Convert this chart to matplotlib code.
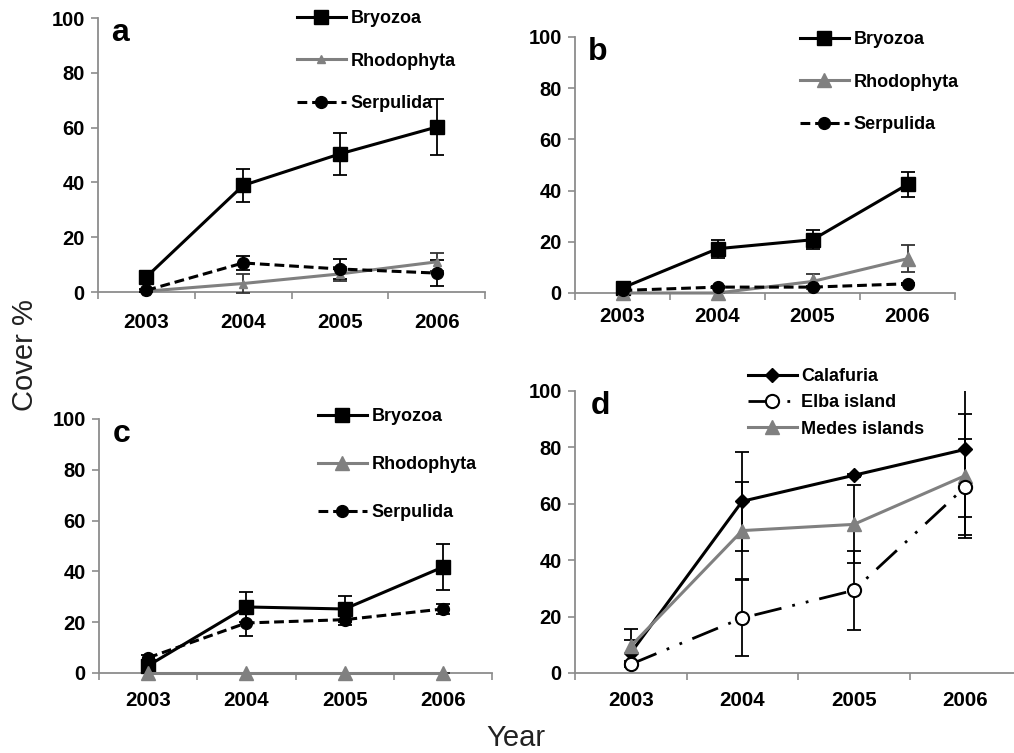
import matplotlib
matplotlib.use("Agg")
import matplotlib.pyplot as plt
import numpy as np

plt.rcParams['font.family'] = ['Liberation Sans', 'DejaVu Sans']

years = ['2003', '2004', '2005', '2006']

# Panel a
a_bryo = [5.5, 38.9, 50.4, 60.2]
a_bryo_err = [1.0, 6.0, 7.6, 10.2]
a_rhodo = [0.3, 3.1, 6.6, 11.0]
a_rhodo_err = [0.3, 3.5, 2.5, 3.2]
a_serp = [0.6, 10.6, 8.4, 6.9]
a_serp_err = [0.5, 2.6, 3.8, 4.7]

# Panel b
b_bryo = [2.0, 17.3, 20.8, 42.4]
b_bryo_err = [0.8, 3.5, 3.7, 5.0]
b_rhodo = [0.0, 0.0, 4.5, 13.4]
b_rhodo_err = [0.0, 0.0, 2.8, 5.3]
b_serp = [1.0, 2.3, 2.3, 3.6]
b_serp_err = [0.3, 0.5, 0.5, 0.5]

# Panel c
c_bryo = [2.9, 26.0, 25.2, 41.7]
c_bryo_err = [1.5, 6.0, 5.0, 9.0]
c_rhodo = [0.0, 0.0, 0.0, 0.0]
c_rhodo_err = [0.0, 0.0, 0.0, 0.0]
c_serp = [6.0, 19.7, 21.0, 25.2]
c_serp_err = [1.0, 5.0, 2.0, 2.0]

# Panel d
d_cala = [7.1, 60.9, 70.1, 79.3]
d_cala_err = [4.7, 17.5, 0.5, 24.0]
d_elba = [3.1, 19.5, 29.3, 66.0]
d_elba_err = [1.0, 13.6, 14.0, 17.0]
d_medes = [9.5, 50.5, 52.7, 70.0]
d_medes_err = [6.0, 17.2, 13.8, 22.0]

W, H = 1014, 753
fig = plt.figure(figsize=(W / 100, H / 100), dpi=100)
GRAY = '#808080'
SPINE = '#8c8c8c'


def px_axes(l, t, r, b):
    return fig.add_axes([l / W, 1 - b / H, (r - l) / W, (b - t) / H])


def style(ax, letter, pad):
    x = np.arange(len(years))
    ax.set_xlim(-0.5, len(years) - 0.5)
    ax.set_ylim(0, 100)
    for s in ['top', 'right']:
        ax.spines[s].set_visible(False)
    for s in ['left', 'bottom']:
        ax.spines[s].set_color(SPINE)
        ax.spines[s].set_linewidth(1.3)
    ax.set_xticks(np.arange(len(years) + 1) - 0.5)
    ax.set_xticklabels([])
    ax.set_xticks(x, minor=True)
    ax.set_xticklabels(years, minor=True, fontsize=14.8, fontweight='bold')
    ax.tick_params(axis='x', which='major', direction='out', length=5, width=1.2, color=SPINE)
    ax.tick_params(axis='x', which='minor', length=0, pad=pad)
    ax.set_yticks(np.arange(0, 101, 20))
    ax.set_yticklabels([str(v) for v in range(0, 101, 20)], fontsize=14.5, fontweight='bold')
    ax.tick_params(axis='y', direction='out', length=5, width=1.2, color=SPINE, pad=4.5)
    ax.text(0.035, 1.0, letter, transform=ax.transAxes, fontsize=23, fontweight='bold',
            va='top', ha='left')


def three_series(ax, bryo, be, rhodo, re_, serp, se, tri_size):
    x = np.arange(len(years))
    ax.errorbar(x, bryo, yerr=be, fmt='none', ecolor='black', elinewidth=1.3, capsize=5, capthick=1.3, clip_on=False, zorder=3)
    ax.errorbar(x, rhodo, yerr=re_, fmt='none', ecolor='#333333', elinewidth=1.3, capsize=5, capthick=1.3, clip_on=False, zorder=3)
    ax.errorbar(x, serp, yerr=se, fmt='none', ecolor='black', elinewidth=1.3, capsize=5, capthick=1.3, clip_on=False, zorder=3)
    ax.plot(x, bryo, color='black', lw=2.2, marker='s', ms=9.5, label='Bryozoa', clip_on=False, zorder=4)
    ax.plot(x, rhodo, color=GRAY, lw=2.2, marker='^', ms=tri_size, label='Rhodophyta', clip_on=False, zorder=4)
    ax.plot(x, serp, color='black', lw=2.2, ls=(0, (3.2, 1.6)), marker='o', ms=8.5, label='Serpulida', clip_on=False, zorder=4)


def legend(ax, x0, y0, spacing):
    ax.legend(loc='upper left', bbox_to_anchor=(x0 / W, 1 - y0 / H), bbox_transform=fig.transFigure,
              frameon=False, borderpad=0, borderaxespad=0, handlelength=2.7, handletextpad=0.25,
              labelspacing=spacing, prop={'size': 13, 'weight': 'bold'})


axa = px_axes(98, 18, 485, 292)
three_series(axa, a_bryo, a_bryo_err, a_rhodo, a_rhodo_err, a_serp, a_serp_err, 6)
style(axa, 'a', 15)
legend(axa, 297, 10, 1.42)

axb = px_axes(575, 37, 955, 293)
three_series(axb, b_bryo, b_bryo_err, b_rhodo, b_rhodo_err, b_serp, b_serp_err, 10)
style(axb, 'b', 10)
legend(axb, 800, 31, 1.42)

axc = px_axes(99, 419, 492, 673)
three_series(axc, c_bryo, c_bryo_err, c_rhodo, c_rhodo_err, c_serp, c_serp_err, 10)
style(axc, 'c', 13)
legend(axc, 318, 408, 1.72)

axd = px_axes(575, 391, 1021, 673)
x = np.arange(len(years))
for vals, errs in [(d_cala, d_cala_err), (d_elba, d_elba_err), (d_medes, d_medes_err)]:
    axd.errorbar(x, vals, yerr=errs, fmt='none', ecolor='black', elinewidth=1.3, capsize=5, capthick=1.3, zorder=3)
axd.plot(x, d_cala, color='black', lw=2.2, marker='D', ms=7.5, label='Calafuria', clip_on=False, zorder=4)
axd.plot(x, d_elba, color='black', lw=2.0, ls=(0, (10, 4, 1, 4, 1, 4)), marker='o', ms=9.5,
         mfc='white', mec='black', mew=1.5, label='Elba island', clip_on=False, zorder=6)
axd.plot(x, d_medes, color=GRAY, lw=2.2, marker='^', ms=10, label='Medes islands', clip_on=False, zorder=5)
style(axd, 'd', 13)
legend(axd, 748, 368, 0.52)

fig.text(25 / W, 1 - 355 / H, 'Cover %', rotation=90, fontsize=21, ha='center', va='center', color='#222222')
fig.text(516 / W, 1 - 738 / H, 'Year', fontsize=21, ha='center', va='center', color='#222222')

fig.savefig('out.png', dpi=100)
